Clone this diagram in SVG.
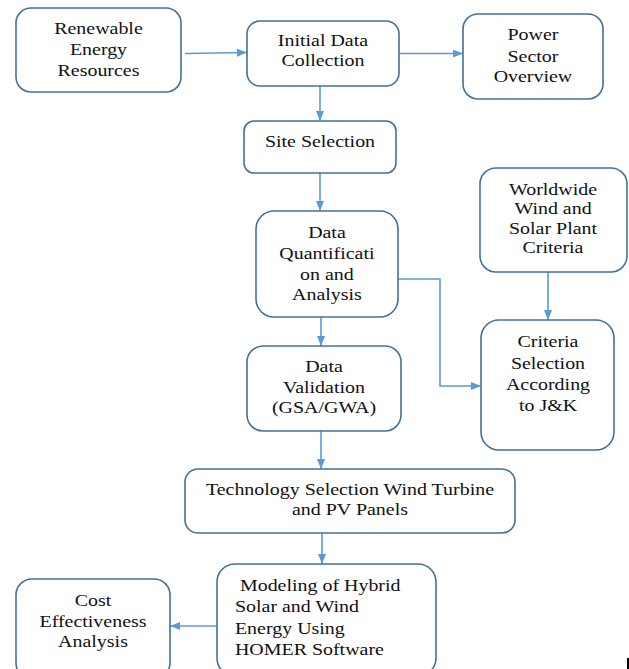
<svg xmlns="http://www.w3.org/2000/svg" width="629" height="669" viewBox="0 0 629 669">
<style>
.box{fill:#fff;stroke:#41719c;stroke-width:1.6}
.t{font-family:"Liberation Serif","Times New Roman",serif;font-size:17.5px;fill:#111;text-anchor:middle}
.tl{text-anchor:start}
.c{fill:none;stroke:#5b9bd5;stroke-width:1.6}
</style>
<defs>
<marker id="ah" markerWidth="10" markerHeight="8" refX="10" refY="4" orient="auto" markerUnits="userSpaceOnUse">
<path d="M0,0 L10,4 L0,8 Z" fill="#5b9bd5"/>
</marker>
</defs>
<rect width="629" height="669" fill="#fff"/>
<g id="connectors">
<path class="c" d="M185,53.5 L247,52.5" marker-end="url(#ah)"/>
<path class="c" d="M399,53.5 L463,53.5" marker-end="url(#ah)"/>
<path class="c" d="M320,86 L320,121" marker-end="url(#ah)"/>
<path class="c" d="M320,173 L320,211" marker-end="url(#ah)"/>
<path class="c" d="M321,317 L321,346" marker-end="url(#ah)"/>
<path class="c" d="M548,272 L548,320" marker-end="url(#ah)"/>
<path class="c" d="M398,279 L440,279 L440,386 L481,386" marker-end="url(#ah)"/>
<path class="c" d="M321,431 L321,469" marker-end="url(#ah)"/>
<path class="c" d="M322,533 L322,564" marker-end="url(#ah)"/>
<path class="c" d="M217,626 L170,626" marker-end="url(#ah)"/>
</g>
<g id="renewable">
<rect class="box" x="16" y="8" width="165" height="84" rx="15"/>
<g transform="scale(1.14,1)">
<text class="t" x="86.4" y="34">Renewable</text>
<text class="t" x="86.4" y="55">Energy</text>
<text class="t" x="86.4" y="76">Resources</text>
</g>
</g>
<g id="initial">
<rect class="box" x="247" y="21" width="152" height="65" rx="13"/>
<g transform="scale(1.14,1)">
<text class="t" x="283.3" y="46">Initial Data</text>
<text class="t" x="283.3" y="66">Collection</text>
</g>
</g>
<g id="power">
<rect class="box" x="463" y="14" width="140" height="85" rx="15"/>
<g transform="scale(1.14,1)">
<text class="t" x="467.5" y="40">Power</text>
<text class="t" x="467.5" y="62">Sector</text>
<text class="t" x="467.5" y="82">Overview</text>
</g>
</g>
<g id="site">
<rect class="box" x="244" y="121" width="152" height="52" rx="10"/>
<g transform="scale(1.14,1)">
<text class="t" x="280.7" y="147">Site Selection</text>
</g>
</g>
<g id="worldwide">
<rect class="box" x="480" y="168" width="147" height="104" rx="16"/>
<g transform="scale(1.14,1)">
<text class="t" x="485.1" y="195">Worldwide</text>
<text class="t" x="485.1" y="214">Wind and</text>
<text class="t" x="485.1" y="234">Solar Plant</text>
<text class="t" x="485.1" y="253">Criteria</text>
</g>
</g>
<g id="quantification">
<rect class="box" x="256" y="211" width="142" height="106" rx="18"/>
<g transform="scale(1.14,1)">
<text class="t" x="286.8" y="238">Data</text>
<text class="t" x="286.8" y="259">Quantificati</text>
<text class="t" x="286.8" y="280">on and</text>
<text class="t" x="286.8" y="300">Analysis</text>
</g>
</g>
<g id="validation">
<rect class="box" x="247" y="346" width="154" height="85" rx="16"/>
<g transform="scale(1.14,1)">
<text class="t" x="284.2" y="372">Data</text>
<text class="t" x="284.2" y="393">Validation</text>
<text class="t" x="284.2" y="413">(GSA/GWA)</text>
</g>
</g>
<g id="criteria">
<rect class="box" x="481" y="320" width="133" height="130" rx="18"/>
<g transform="scale(1.14,1)">
<text class="t" x="480.7" y="347">Criteria</text>
<text class="t" x="480.7" y="369">Selection</text>
<text class="t" x="480.7" y="390">According</text>
<text class="t" x="480.7" y="411">to J&amp;K</text>
</g>
</g>
<g id="technology">
<rect class="box" x="185" y="469" width="330" height="64" rx="13"/>
<g transform="scale(1.14,1)">
<text class="t" x="307" y="495">Technology Selection Wind Turbine</text>
<text class="t" x="307" y="515">and PV Panels</text>
</g>
</g>
<g id="modeling">
<rect class="box" x="217" y="564" width="219" height="112" rx="18"/>
<g transform="scale(1.14,1)">
<text class="t tl" x="210.5" y="591">Modeling of Hybrid</text>
<text class="t tl" x="206.1" y="612">Solar and Wind</text>
<text class="t tl" x="206.1" y="634">Energy Using</text>
<text class="t tl" x="206.1" y="655">HOMER Software</text>
</g>
</g>
<g id="cost">
<rect class="box" x="16" y="579" width="154" height="100" rx="16"/>
<g transform="scale(1.14,1)">
<text class="t" x="81.6" y="606">Cost</text>
<text class="t" x="81.6" y="627">Effectiveness</text>
<text class="t" x="81.6" y="647">Analysis</text>
</g>
</g>
<rect x="627" y="658" width="2" height="11" fill="#000"/>
</svg>
